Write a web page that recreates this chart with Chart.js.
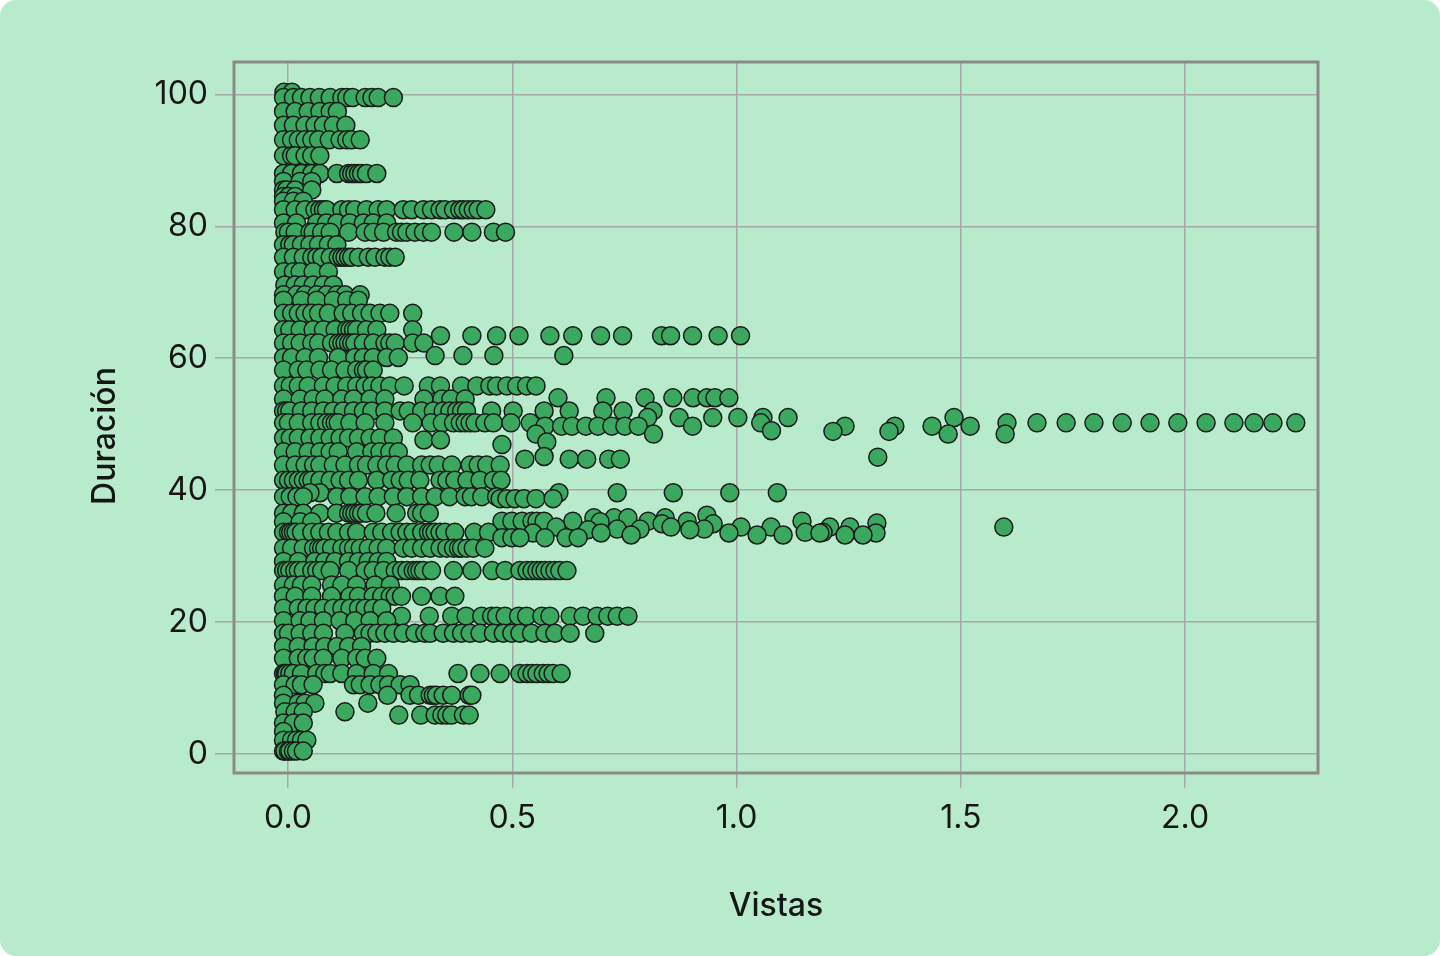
<!DOCTYPE html>
<html>
<head>
<meta charset="utf-8">
<title>Vistas y duración</title>
<script src="https://cdn.jsdelivr.net/npm/chart.js@4"></script>
<style>
html,body{margin:0;padding:0;background:#fff;}
#card{width:1440px;height:956px;background:#b8ebcb;border-radius:16px;overflow:hidden;}
canvas{display:block;}
</style>
</head>
<body>
<div id="card"><canvas id="myChart" width="1440" height="956"></canvas></div>
<script>
'use strict';

var xTicks=[0,0.5,1,1.5,2];
var yTicks=[0,20,40,60,80,100];
var xLabel='Vistas';
var yLabel='Duración';

// duracion of each row, then the vistas read along that row
var durations=[100.3,99.5,97.4,95.3,93.1,90.7,88,86.8,85.5,84.5,83.8,82.5,80.5,79.1,77.2,75.3,73.1,71.1,69.6,68.8,66.8,64.3,63.4,62.3,60.4,60.1,58.2,55.8,54,53.8,52,51,50.2,49.7,49,48.9,48.5,47.9,47.6,47.3,46.9,45.8,45.1,45,44.7,43.8,41.5,39.6,39,38.7,36.5,36.2,35.8,35.2,35.3,35,34.9,34.4,34.1,34,33.6,33.5,33.2,32.8,31.2,29.2,27.8,25.6,23.9,22.1,20.9,20.2,18.3,16.3,14.5,12.2,10.5,8.9,7.7,6.4,5.9,4.7,3.4,2.1,0.45];

var r100=[-0.009,0.009];
var r99=[-0.01,0.012,0.03,0.049,0.07,0.094,0.12,0.131,0.144,0.172,0.187,0.201,0.235];
var r97=[-0.01,0.016,0.045,0.071,0.094,0.11];
var r95=[-0.01,0.012,0.038,0.06,0.079,0.101,0.129];
var r93=[-0.01,0.008,0.023,0.038,0.053,0.068,0.092,0.116,0.131,0.142,0.161];
var r90=[-0.01,0.008,0.016,0.038,0.053,0.071];
var r88=[-0.01,0.008,0.03,0.053,0.071,0.109,0.135,0.142,0.149,0.157,0.164,0.175,0.198];
var r86=[-0.01,0.027,0.053];
var r85=[-0.01,-0.003,0.016,0.053];
var r84=[-0.01,0.001,0.016];
var r83=[-0.01,0.012,0.034];
var r82=[-0.01,0.016,0.038,0.06,0.071,0.079,0.086,0.12,0.135,0.149,0.175,0.201,0.22,0.257,0.276,0.302,0.32,0.339,0.35,0.369,0.383,0.391,0.402,0.413,0.424,0.441];
var r80=[-0.01,0.019,0.064,0.086,0.109,0.138,0.168,0.19,0.22];
var r79=[-0.007,0.001,0.016,0.049,0.056,0.075,0.094,0.135,0.172,0.19,0.213,0.242,0.253,0.265,0.283,0.302,0.32,0.37,0.41,0.458,0.485];
var r77=[-0.01,0.004,0.012,0.03,0.049,0.068,0.09,0.109];
var r75=[-0.01,0.012,0.034,0.053,0.064,0.075,0.094,0.112,0.12,0.127,0.135,0.142,0.157,0.179,0.194,0.216,0.227,0.239];
var r73=[-0.01,0.012,0.027,0.056,0.09];
var r71=[-0.007,0.016,0.034,0.056,0.079,0.101];
var r69=[-0.01,0.019,0.038,0.064,0.086,0.109,0.127,0.161];
var r68=[-0.01,0.03,0.064,0.101,0.131,0.157];
var r66=[-0.01,0.008,0.023,0.038,0.053,0.068,0.09,0.123,0.142,0.164,0.183,0.205,0.227,0.278];
var r64=[-0.01,0.004,0.027,0.056,0.079,0.105,0.131,0.138,0.146,0.153,0.175,0.198,0.278];
var r63=[0.34,0.41,0.465,0.515,0.584,0.635,0.697,0.746,0.833,0.853,0.902,0.959,1.009];
var r62=[-0.01,0.008,0.027,0.053,0.068,0.097,0.112,0.12,0.127,0.135,0.142,0.149,0.168,0.19,0.216,0.227,0.239,0.278,0.303];
var r60b=[0.328,0.39,0.459,0.615];
var r60=[-0.01,0.008,0.038,0.068,0.112,0.149,0.168,0.19,0.22,0.246];
var r58=[-0.01,0.023,0.042,0.071,0.097,0.127,0.153,0.168,0.175,0.19];
var r55=[-0.01,0.005,0.023,0.045,0.079,0.105,0.131,0.153,0.172,0.187,0.205,0.227,0.259,0.313,0.34,0.387,0.421,0.45,0.465,0.488,0.51,0.532,0.553];
var r54=[0.602,0.709,0.796,0.858,0.903,0.934,0.952,0.983];
var r53=[-0.01,0.027,0.056,0.082,0.12,0.146,0.183,0.216,0.303,0.343,0.363,0.395];
var r51=[-0.01,-0.003,0.004,0.03,0.053,0.079,0.101,0.123,0.146,0.168,0.187,0.216,0.25,0.268,0.298,0.324,0.346,0.361,0.376,0.387,0.398,0.454,0.502,0.571,0.627,0.702,0.747,0.814];
var r51b=[0.802,0.872,0.947,1.003,1.059,1.115,1.485];
var r50=[-0.01,0.001,0.023,0.053,0.071,0.086,0.097,0.105,0.112,0.138,0.172,0.216,0.278,0.319,0.344,0.369,0.384,0.395,0.406,0.417,0.439,0.458,0.497,0.54,1.054,1.603,1.67,1.735,1.797,1.86,1.922,1.984,2.047,2.109,2.154,2.196,2.247];
var r49=[0.573,0.61,0.633,0.664,0.691,0.722,0.751,0.781,0.902,1.242,1.353,1.436,1.521];
var r49b=[1.078];
var r48b=[1.215,1.34];
var r48c=[0.553,0.815,1.472,1.599];
var r48=[-0.01,0.005,0.023,0.049,0.071,0.094,0.116,0.135,0.157,0.183,0.205,0.235];
var r47=[0.303,0.34];
var r47b=[0.577];
var r46b=[0.477];
var r46=[-0.01,0.016,0.045,0.071,0.094,0.112,0.153,0.187,0.205,0.227,0.246];
var r45b=[0.571];
var r45=[1.315];
var r44=[0.528,0.627,0.666,0.715,0.741];
var r43=[-0.01,0.016,0.038,0.057,0.071,0.101,0.127,0.157,0.175,0.198,0.22,0.239,0.265,0.298,0.317,0.335,0.365,0.406,0.424,0.443,0.473];
var r41=[-0.01,0.001,0.012,0.023,0.034,0.045,0.053,0.071,0.094,0.116,0.135,0.157,0.198,0.231,0.25,0.268,0.294,0.339,0.354,0.372,0.399,0.428,0.458,0.475];
var r39b=[0.604,0.734,0.859,0.985,1.091,0.071,0.049];
var r39=[-0.01,0.005,0.02,0.034,0.109,0.138,0.172,0.201,0.235,0.265,0.298,0.328,0.36,0.395,0.409,0.432,0.465];
var r38=[0.473,0.488,0.506,0.526,0.553,0.591];
var r36=[-0.01,0.008,0.034,0.071,0.108,0.135,0.142,0.149,0.157,0.164,0.175,0.196,0.241,0.287,0.298,0.315];
var r36b=[0.934];
var r35c=[0.682,0.727,0.758,0.841];
var r35b=[-0.01,0.027,0.053,0.696];
var r35=[0.477,0.499,0.522,0.544,0.555,0.571,0.635,0.803,0.89,1.146];
var r35d=[1.313];
var r34d=[0.834,0.948];
var r34=[0.598,0.854,1.01,1.077,1.208,1.253,1.596];
var r34b=[0.734,0.785,0.928];
var r34c=[0.669,0.896];
var r33c=[-0.01,0.001,0.006,0.012,0.018,0.03,0.053,0.071,0.09,0.109,0.135,0.153,0.19,0.209,0.231,0.25,0.265,0.279,0.298,0.313,0.32,0.328,0.339,0.35,0.372,0.415,0.447,1.153,1.193];
var r33b=[0.546,0.698,0.983,1.186,1.311];
var r33=[0.765,1.046,1.104,1.242,1.282];
var r32=[0.477,0.499,0.517,0.573,0.62,0.647];
var r31=[-0.01,0.008,0.034,0.057,0.068,0.075,0.082,0.097,0.12,0.135,0.146,0.161,0.179,0.201,0.22,0.257,0.276,0.298,0.317,0.339,0.354,0.369,0.38,0.387,0.399,0.413,0.439];
var r29=[-0.01,0.023,0.06,0.082,0.105,0.135,0.157,0.179,0.201,0.22];
var r27=[-0.01,-0.003,0.004,0.015,0.023,0.034,0.053,0.064,0.075,0.094,0.135,0.172,0.19,0.213,0.239,0.253,0.265,0.279,0.287,0.294,0.302,0.32,0.369,0.41,0.455,0.484,0.517,0.533,0.544,0.555,0.564,0.573,0.584,0.595,0.606,0.622];
var r25=[-0.01,0.012,0.03,0.053,0.097,0.12,0.153,0.194,0.228];
var r23=[-0.01,0.016,0.053,0.097,0.138,0.157,0.19,0.209,0.228,0.239,0.253,0.298,0.339,0.372];
var r22=[-0.01,0.023,0.042,0.06,0.079,0.101,0.12,0.138,0.157,0.172,0.19,0.209];
var r20b=[0.253,0.315,0.365,0.397,0.432,0.454,0.465,0.484,0.514,0.532,0.566,0.584,0.629,0.658,0.689,0.713,0.734,0.758];
var r20=[-0.01,0.027,0.049,0.079,0.116,0.149,0.183,0.22];
var r18=[-0.01,0.001,0.027,0.053,0.079,0.127,0.168,0.183,0.198,0.216,0.235,0.257,0.283,0.305,0.317,0.346,0.369,0.387,0.406,0.428,0.458,0.48,0.499,0.517,0.543,0.573,0.595,0.629,0.684];
var r16=[-0.01,0.023,0.056,0.082,0.109,0.135,0.164];
var r14=[-0.01,0.023,0.042,0.056,0.079,0.12,0.153,0.172,0.198];
var r12=[-0.01,-0.006,-0.003,0.004,0.012,0.03,0.064,0.082,0.094,0.12,0.153,0.19,0.224,0.379,0.428,0.473,0.517,0.533,0.544,0.555,0.569,0.58,0.591,0.609];
var r10=[-0.01,0.016,0.03,0.056,0.146,0.161,0.183,0.205,0.224,0.25,0.272];
var r8=[-0.01,0.222,0.272,0.291,0.317,0.324,0.331,0.346,0.365,0.404,0.41];
var r7=[-0.01,0.023,0.038,0.06,0.178];
var r6=[-0.007,0.016,0.034,0.127];
var r5=[0.247,0.296,0.328,0.343,0.354,0.365,0.391,0.404];
var r4=[-0.01,0.012,0.034];
var r3=[-0.01];
var r2=[-0.01,0.008,0.019,0.03,0.042];
var r0=[-0.01,-0.007,0.001,0.004,0.012,0.019,0.034];

var rows=[r100,r99,r97,r95,r93,r90,r88,r86,r85,r84,r83,r82,r80,r79,r77,r75,r73,r71,r69,r68,r66,r64,r63,r62,r60b,r60,r58,r55,r54,r53,r51,r51b,r50,r49,r49b,r48b,r48c,r48,r47,r47b,r46b,r46,r45b,r45,r44,r43,r41,r39b,r39,r38,r36,r36b,r35c,r35b,r35,r35d,r34d,r34,r34b,r34c,r33c,r33b,r33,r32,r31,r29,r27,r25,r23,r22,r20b,r20,r18,r16,r14,r12,r10,r8,r7,r6,r5,r4,r3,r2,r0];

var points=[];
for(var i=0;i<rows.length;i++){
    for(var j=0;j<rows[i].length;j++){
        points.push({x:rows[i][j],y:durations[i]});
    }
}

// the frame goes round all four sides, the axis border only does two
// the y title sits below the middle of the axis, the built in title can't do that
var framePlugin={
    id:'frame',
    afterDraw:function(chart){
        var a=chart.chartArea;
        var c=chart.ctx;
        c.save();
        c.strokeStyle='#8a8a8a';
        c.lineWidth=3;
        c.strokeRect(a.left,a.top,a.right-a.left,a.bottom-a.top);
        c.translate(115,436);
        c.rotate(-Math.PI/2);
        c.font='500 32px Inter';
        c.fillStyle='#161616';
        c.textAlign='center';
        c.textBaseline='alphabetic';
        c.fillText(yLabel,0,0);
        c.restore();
    }
};

var ctx=document.getElementById('myChart').getContext('2d');
var chart=new Chart(ctx,{
    type:'scatter',
    data:{
        datasets:[{
            data:points,
            backgroundColor:'#3aa85f',
            borderColor:'#1a1a1a',
            borderWidth:1.5,
            pointRadius:9
        }]
    },
    options:{
        responsive:false,
        animation:false,
        layout:{padding:{left:86,right:122,top:62,bottom:30}},
        plugins:{legend:{display:false},tooltip:{enabled:false}},
        scales:{
            x:{
                type:'linear',
                min:-0.1204,
                max:2.2965,
                afterBuildTicks:function(s){s.ticks=xTicks.map(function(v){return {value:v};});},
                afterFit:function(s){s.height=153;},
                grid:{color:'#a8a8a8',lineWidth:1.5,tickLength:15},
                border:{display:false},
                ticks:{
                    font:{family:'Inter',size:32},
                    color:'#161616',
                    padding:11,
                    maxRotation:0,
                    callback:function(v){return v.toFixed(1);}
                },
                title:{display:true,text:xLabel,font:{family:'Inter',size:32,weight:'500'},color:'#161616',padding:{top:0,bottom:0}}
            },
            y:{
                min:-2.88,
                max:104.9,
                afterBuildTicks:function(s){s.ticks=yTicks.map(function(v){return {value:v};});},
                afterFit:function(s){s.width=148;},
                grid:{color:'#a8a8a8',lineWidth:1.5,tickLength:19},
                border:{display:false},
                ticks:{
                    font:{family:'Inter',size:32},
                    color:'#161616',
                    padding:7,
                    callback:function(v){return String(v);}
                }
            }
        }
    },
    plugins:[framePlugin]
});
</script>
</body>
</html>
